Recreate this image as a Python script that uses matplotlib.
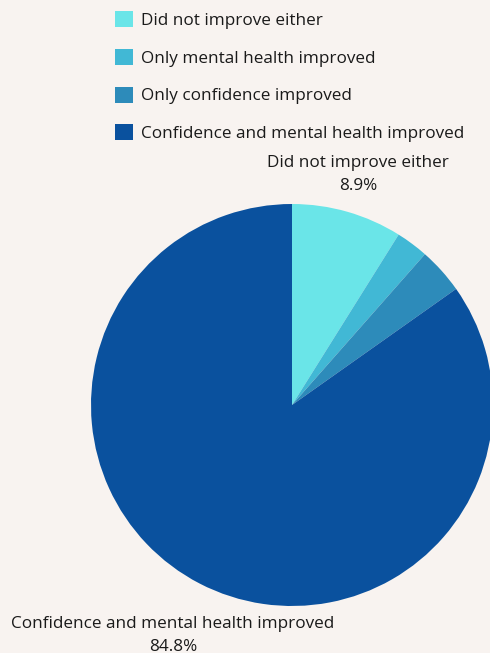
import numpy as np
import matplotlib.pyplot as plt
from matplotlib.patches import Patch

# survey outcome shares (%)
categories = ["Did not improve either", "Only mental health improved",
              "Only confidence improved", "Confidence and mental health improved"]
shares = [8.9, 2.6, 3.7, 84.8]
colors = ["#6AE5E8", "#41B8D5", "#2D8BBA", "#0A519E"]
bg = "#F8F3F0"
txt = "#1A1A1A"

plt.rcParams['font.family'] = ['Open Sans', 'DejaVu Sans']
fs = 12.3

W, H = 490, 653
fig = plt.figure(figsize=(W / 100, H / 100), dpi=100, facecolor=bg)

# pie axes placed by pixel centre / radius
cx, cy, r = 292, 405, 201
ax = fig.add_axes([(cx - r) / W, (H - cy - r) / H, 2 * r / W, 2 * r / H])
ax.set_facecolor(bg)
wedges, _ = ax.pie(shares, colors=colors, startangle=90, counterclock=False,
                   radius=1, wedgeprops=dict(linewidth=0))
ax.set_xlim(-1, 1)
ax.set_ylim(-1, 1)
ax.set_aspect('equal')
ax.axis('off')

# outside labels for the two largest slices
label_dist = {0: 1.195, 3: 1.29}
for i, d in label_dist.items():
    w = wedges[i]
    mid = np.deg2rad((w.theta1 + w.theta2) / 2)
    ax.text(d * np.cos(mid), d * np.sin(mid), f"{categories[i]}\n{shares[i]}%",
            ha='center', va='center', fontsize=fs, color=txt,
            linespacing=1.6, clip_on=False)

handles = [Patch(facecolor=c, edgecolor='none') for c in colors]
fig.legend(handles, categories, loc='upper left', bbox_to_anchor=(115 / W, 1 - 11 / H),
           frameon=False, fontsize=fs, handlelength=1.06, handleheight=1.06,
           handletextpad=0.47, labelspacing=1.17, borderpad=0, borderaxespad=0,
           labelcolor=txt)

fig.savefig("out.png", dpi=100, facecolor=bg)
